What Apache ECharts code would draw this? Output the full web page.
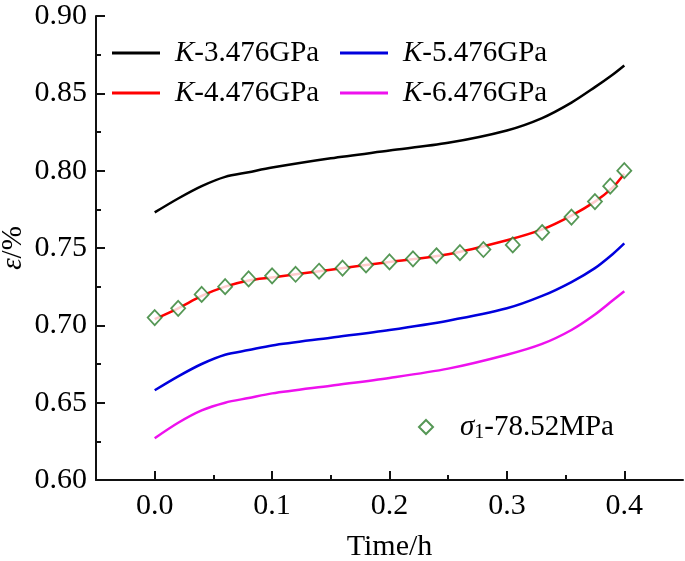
<!DOCTYPE html>
<html>
<head>
<meta charset="utf-8">
<script src="https://cdn.jsdelivr.net/npm/echarts@6/dist/echarts.min.js"></script>
<style>
  html, body { margin: 0; padding: 0; background: #fff; }
  #chart { width: 685px; height: 561px; }
</style>
</head>
<body>
<div id="chart"></div>
<script>
// time points for the model curves (h)
var time = [0, 0.02, 0.04, 0.06, 0.08, 0.1, 0.15, 0.2, 0.25, 0.3, 0.33, 0.355, 0.375, 0.39, 0.4];
// strain (%) for each K
var k3 = [0.773, 0.782, 0.790, 0.796, 0.799, 0.802, 0.808, 0.813, 0.818, 0.826, 0.834, 0.844, 0.854, 0.862, 0.868];
var k4 = [0.704, 0.711, 0.719, 0.725, 0.729, 0.731, 0.736, 0.741, 0.746, 0.755, 0.762, 0.771, 0.780, 0.789, 0.798];
var k5 = [0.658, 0.667, 0.675, 0.681, 0.684, 0.687, 0.692, 0.697, 0.703, 0.711, 0.719, 0.728, 0.737, 0.746, 0.753];
var k6 = [0.627, 0.637, 0.645, 0.650, 0.653, 0.656, 0.661, 0.666, 0.672, 0.681, 0.688, 0.697, 0.707, 0.716, 0.722];

// test data sigma1 = 78.52MPa
var testTime = [0, 0.02, 0.04, 0.06, 0.08, 0.1, 0.12, 0.14, 0.16, 0.18, 0.2, 0.22, 0.24, 0.26, 0.28, 0.305, 0.33, 0.355, 0.375, 0.388, 0.4];
var testStrain = [0.705, 0.711, 0.720, 0.725, 0.730, 0.732, 0.733, 0.735, 0.737, 0.739, 0.741, 0.743, 0.745, 0.747, 0.749, 0.752, 0.760, 0.770, 0.780, 0.790, 0.800];

var xMajor = [0, 0.1, 0.2, 0.3, 0.4];
var xMinor = [0.05, 0.15, 0.25, 0.35];

var names = ['K-3.476GPa', 'K-4.476GPa', 'K-5.476GPa', 'K-6.476GPa'];
var colors = ['#000000', '#ff0000', '#0000dd', '#ee11ee'];
var testName = 'σ1-78.52MPa';

var font = "'Liberation Serif', 'Times New Roman', serif";

function pairs(xs, ys) {
  var out = [];
  for (var i = 0; i < xs.length; i++) out.push([xs[i], ys[i]]);
  return out;
}

var rich = {
  i: { fontFamily: font, fontSize: 29, fontStyle: 'italic', color: '#000' },
  n: { fontFamily: font, fontSize: 29, color: '#000' },
  s: { fontFamily: font, fontSize: 20, color: '#000', padding: [12, 0, 0, 0] }
};

function legendFmt(name) {
  if (name === testName) return '{i|σ}{s|1}{n|-78.52MPa}';
  return '{i|K}{n|' + name.slice(1) + '}';
}

var legendBase = {
  orient: 'vertical',
  padding: 0,
  itemWidth: 48,
  itemHeight: 3,
  itemGap: 10,
  icon: 'rect',
  formatter: legendFmt,
  textStyle: { fontFamily: font, fontSize: 29, lineHeight: 30, padding: [0, 0, 0, 10], rich: rich }
};

var chart = echarts.init(document.getElementById('chart'));

var series = [];
var lines = [k3, k4, k5, k6];
for (var s = 0; s < lines.length; s++) {
  series.push({
    name: names[s],
    type: 'line',
    smooth: 0.3,
    showSymbol: false,
    color: colors[s],
    lineStyle: { width: 2.5, color: colors[s] },
    data: pairs(time, lines[s])
  });
}
series.push({
  name: testName,
  type: 'scatter',
  symbol: 'diamond',
  symbolSize: [14, 15],
  z: 5,
  itemStyle: { color: '#ffffff', borderColor: '#2a7d2a', borderWidth: 1.8 },
  data: pairs(testTime, testStrain)
});

var option = {
  animation: false,
  backgroundColor: '#fff',
  grid: { left: 96, right: 2, top: 16, bottom: 81, containLabel: false, outerBoundsMode: 'none' },
  legend: [
    Object.assign({}, legendBase, { data: [names[0], names[1]], left: 112, top: 38 }),
    Object.assign({}, legendBase, { data: [names[2], names[3]], left: 340, top: 38 }),
    Object.assign({}, legendBase, {
      data: [testName], left: 418, top: 412,
      icon: 'diamond', itemWidth: 14, itemHeight: 14,
      textStyle: { fontFamily: font, fontSize: 29, lineHeight: 30, padding: [0, 0, 0, 22], rich: rich }
    })
  ],
  xAxis: [{
    type: 'value',
    min: -0.05,
    max: 0.45,
    name: 'Time/h',
    nameLocation: 'middle',
    nameGap: 52,
    nameMoveOverlap: false,
    nameTextStyle: { fontFamily: font, fontSize: 30, color: '#000' },
    axisLine: { onZero: false, lineStyle: { color: '#111', width: 2 } },
    axisTick: { inside: true, length: 9, customValues: xMajor, lineStyle: { color: '#111', width: 2 } },
    axisLabel: { customValues: xMajor, margin: 11, fontFamily: font, fontSize: 30, color: '#000',
      formatter: function (v) { return v.toFixed(1); } },
    splitLine: { show: false }
  }, {
    type: 'value',
    min: -0.05,
    max: 0.45,
    position: 'bottom',
    axisLine: { show: false, onZero: false },
    axisTick: { inside: true, length: 5, customValues: xMinor, lineStyle: { color: '#111', width: 2 } },
    axisLabel: { show: false },
    splitLine: { show: false }
  }],
  yAxis: {
    type: 'value',
    min: 0.6,
    max: 0.9,
    interval: 0.05,
    name: '{i|ε}{n|/%}',
    nameLocation: 'middle',
    nameRotate: 90,
    nameGap: 68,
    nameMoveOverlap: false,
    nameTextStyle: { rich: rich },
    axisLine: { show: true, onZero: false, lineStyle: { color: '#111', width: 2 } },
    axisTick: { inside: true, length: 9, lineStyle: { color: '#111', width: 2 } },
    minorTick: { show: true, splitNumber: 2, length: 5, lineStyle: { color: '#111', width: 2 } },
    axisLabel: { margin: 9, fontFamily: font, fontSize: 30, color: '#000',
      formatter: function (v) { return v.toFixed(2); } },
    splitLine: { show: false }
  },
  series: series
};
chart.setOption(option);
</script>
</body>
</html>
